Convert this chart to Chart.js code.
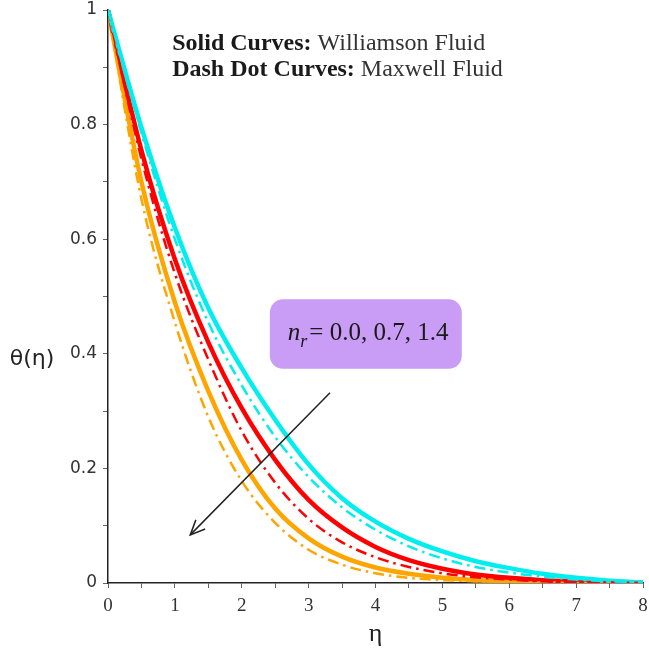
<!DOCTYPE html>
<html>
<head>
<meta charset="utf-8">
<script src="https://cdn.jsdelivr.net/npm/chart.js@4/dist/chart.umd.min.js"></script>
<style>
  html, body { margin: 0; padding: 0; background: #fff; }
  #wrap { width: 649px; height: 654px; position: relative; }
</style>
</head>
<body>
<div id="wrap"><canvas id="c"></canvas></div>
<script>
// ---- data ----
const etaValues = [0, 0.5, 1, 1.5, 2, 2.5, 3, 3.5, 4, 4.5, 5, 5.5, 6, 6.5, 7, 7.5, 8];
const williamsonNr00 = [1, 0.795, 0.62, 0.48, 0.375, 0.285, 0.207, 0.148, 0.107, 0.077, 0.055, 0.038, 0.026, 0.016, 0.009, 0.004, 0.001];
const maxwellNr00    = [1, 0.785, 0.60, 0.455, 0.345, 0.255, 0.185, 0.132, 0.093, 0.064, 0.043, 0.028, 0.018, 0.011, 0.006, 0.003, 0.001];
const williamsonNr07 = [1, 0.755, 0.565, 0.42, 0.305, 0.215, 0.145, 0.097, 0.063, 0.040, 0.025, 0.015, 0.009, 0.005, 0.003, 0.001, 0];
const maxwellNr07    = [1, 0.74, 0.54, 0.39, 0.265, 0.175, 0.112, 0.071, 0.045, 0.028, 0.017, 0.010, 0.006, 0.003, 0.002, 0.001, 0];
const williamsonNr14 = [1, 0.70, 0.49, 0.335, 0.215, 0.13, 0.078, 0.046, 0.027, 0.016, 0.009, 0.005, 0.003, 0.002, 0.001, 0, 0];
const maxwellNr14    = [1, 0.67, 0.455, 0.29, 0.178, 0.105, 0.058, 0.032, 0.017, 0.009, 0.005, 0.003, 0.001, 0.001, 0, 0, 0];
const xTickLabels = ['0', '1', '2', '3', '4', '5', '6', '7', '8'];
const yTickLabels = ['0', '0.2', '0.4', '0.6', '0.8', '1'];
const nrLabel = '= 0.0, 0.7, 1.4';

const toPts = arr => etaValues.map((x, i) => ({ x: x, y: arr[i] }));

const CYAN = 'rgb(0,238,238)';
const RED = 'rgb(255,0,0)';
const ORANGE = 'rgb(255,165,0)';
const DASHDOT = [11, 5, 2.5, 5];

function solid(label, data, color) {
  return { label, data: toPts(data), borderColor: color, borderWidth: 4.5, pointRadius: 0,
           cubicInterpolationMode: 'monotone', fill: false };
}
function dashdot(label, data, color) {
  return { label, data: toPts(data), borderColor: color, borderWidth: 2.5, pointRadius: 0,
           borderDash: DASHDOT, cubicInterpolationMode: 'monotone', fill: false };
}

const annotations = {
  id: 'annotations',
  afterDatasetsDraw(chart) {
    const ctx = chart.ctx;
    const xs = chart.scales.x, ys = chart.scales.y;
    const X = v => xs.getPixelForValue(v), Y = v => ys.getPixelForValue(v);
    ctx.save();
    // legend-like text
    ctx.textBaseline = 'alphabetic';
    ctx.textAlign = 'left';
    const lx = X(0.96);
    const lines = [['Solid Curves:', ' Williamson Fluid', 0.93], ['Dash Dot Curves:', ' Maxwell Fluid', 0.884]];
    lines.forEach(([b, n, yv]) => {
      ctx.fillStyle = '#1a1a1a';
      ctx.font = 'bold 24px "Liberation Serif"';
      ctx.fillText(b, lx, Y(yv));
      const w = ctx.measureText(b).width;
      ctx.font = '24px "Liberation Serif"';
      ctx.fillStyle = '#333';
      ctx.fillText(n, lx + w, Y(yv));
    });
    // purple box
    const bx0 = X(2.42), bx1 = X(5.29), by0 = Y(0.495), by1 = Y(0.374);
    const r = 13;
    ctx.fillStyle = 'rgb(201,156,245)';
    ctx.beginPath();
    ctx.roundRect(bx0, by0, bx1 - bx0, by1 - by0, r);
    ctx.fill();
    // box text
    ctx.fillStyle = '#1a1a1a';
    const tx = bx0 + 18, ty = Y(0.424);
    ctx.font = 'italic 25px "Liberation Serif"';
    ctx.fillText('n', tx, ty);
    const wn = ctx.measureText('n').width;
    ctx.font = 'italic 18px "Liberation Serif"';
    ctx.fillText('r', tx + wn, ty + 7);
    const wr = ctx.measureText('r').width;
    ctx.font = '25px "Liberation Serif"';
    ctx.fillText(nrLabel, tx + wn + wr + 2, ty);
    // arrow
    const ax0 = X(3.32), ay0 = Y(0.332), ax1 = X(1.23), ay1 = Y(0.084);
    ctx.strokeStyle = '#222';
    ctx.lineWidth = 1.5;
    ctx.beginPath();
    ctx.moveTo(ax0, ay0); ctx.lineTo(ax1, ay1); ctx.stroke();
    const ang = Math.atan2(ay1 - ay0, ax1 - ax0);
    const hl = 16, ha = 0.42;
    ctx.beginPath();
    ctx.moveTo(ax1 - hl * Math.cos(ang - ha), ay1 - hl * Math.sin(ang - ha));
    ctx.lineTo(ax1, ay1);
    ctx.lineTo(ax1 - hl * Math.cos(ang + ha), ay1 - hl * Math.sin(ang + ha));
    ctx.stroke();
    // axis titles
    ctx.fillStyle = '#222';
    ctx.textAlign = 'center';
    ctx.textBaseline = 'middle';
    ctx.font = '22px "DejaVu Sans"';
    ctx.fillText('θ(η)', 32, Y(0.39));
    ctx.font = '26px "Liberation Serif"';
    ctx.fillText('η', X(4), 634);
    ctx.restore();
  }
};

new Chart(document.getElementById('c'), {
  type: 'line',
  data: {
    datasets: [
      dashdot('Maxwell n_r=0.0', maxwellNr00, CYAN),
      dashdot('Maxwell n_r=0.7', maxwellNr07, RED),
      dashdot('Maxwell n_r=1.4', maxwellNr14, ORANGE),
      solid('Williamson n_r=0.0', williamsonNr00, CYAN),
      solid('Williamson n_r=0.7', williamsonNr07, RED),
      solid('Williamson n_r=1.4', williamsonNr14, ORANGE)
    ]
  },
  options: {
    responsive: true,
    maintainAspectRatio: false,
    animation: false,
    layout: { padding: { top: 0, right: 0, left: 0, bottom: 0 } },
    plugins: { legend: { display: false }, tooltip: { enabled: false } },
    scales: {
      x: {
        type: 'linear', min: 0, max: 8,
        afterFit(s) { s.height = 71; s.paddingRight = 6; },
        ticks: {
          stepSize: 0.5, autoSkip: false, maxRotation: 0, color: '#333', padding: 7,
          font: { family: '"Liberation Serif"', size: 19 },
          callback: v => (Number.isInteger(v) ? xTickLabels[v] : '')
        },
        grid: { display: true, drawOnChartArea: false, drawTicks: true, tickLength: 5, color: '#666' },
        border: { display: true, color: '#222', width: 1.5 }
      },
      y: {
        type: 'linear', min: 0, max: 1,
        afterFit(s) { s.width = 108; s.paddingTop = 10; },
        ticks: {
          stepSize: 0.1, autoSkip: false, color: '#333', padding: 6,
          font: { family: '"DejaVu Sans"', size: 17 },
          callback: v => {
            const k = Math.round(v * 10);
            return k % 2 === 0 ? yTickLabels[k / 2] : '';
          }
        },
        grid: { display: true, drawOnChartArea: false, drawTicks: true, tickLength: 5, color: '#666' },
        border: { display: true, color: '#222', width: 1.5 }
      }
    }
  },
  plugins: [annotations]
});
</script>
</body>
</html>
